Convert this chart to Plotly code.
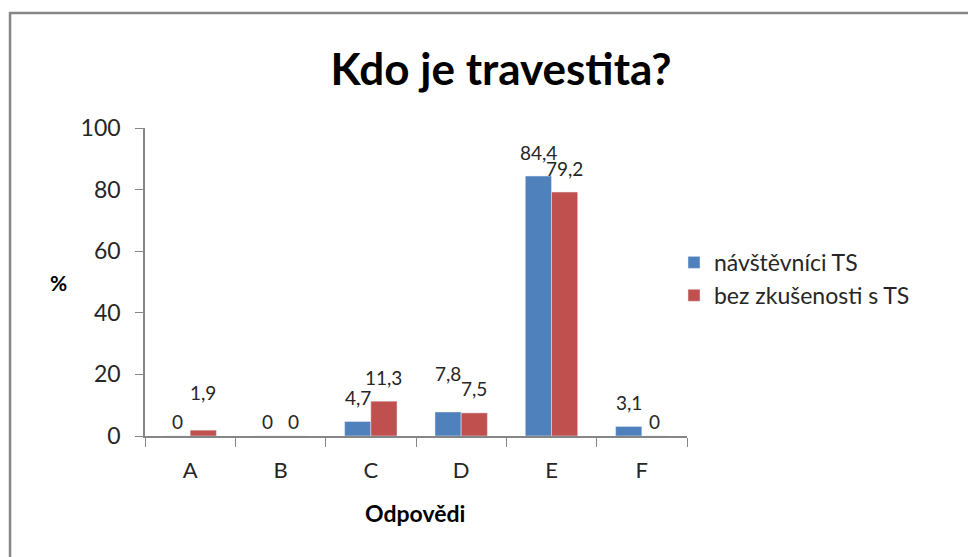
import plotly.graph_objects as go

# answers A-F, percent of respondents
odpovedi = ["A", "B", "C", "D", "E", "F"]
navstevnici = [0, 0, 4.7, 7.8, 84.4, 3.1]
bez_zkusenosti = [1.9, 0, 11.3, 7.5, 79.2, 0]
y_ticks = [0, 20, 40, 60, 80, 100]

def cz(v):
    # czech decimal comma
    return f"{v:g}".replace(".", ",")

FONT = "Lato"
TXT = "#262626"

fig = go.Figure()
fig.add_trace(go.Bar(x=odpovedi, y=navstevnici, name="návštěvníci TS",
                     marker_color="#4F81BD"))
fig.add_trace(go.Bar(x=odpovedi, y=bez_zkusenosti, name="bez zkušenosti s TS",
                     marker_color="#C0504D"))

# value labels above bars (excel style, a bit higher than plotly's own);
# when the two values of a category are close, the higher label is lifted
for vals, other, side in [(navstevnici, bez_zkusenosti, -1),
                          (bez_zkusenosti, navstevnici, 1)]:
    for cat, v, o in zip(odpovedi, vals, other):
        shift = 15 if v == 0 else 24
        if v > o and v - o < 3:
            shift += 14
        fig.add_annotation(x=cat, y=v, text=cz(v), showarrow=False,
                           xanchor="center", yanchor="middle",
                           xshift=side * 13, yshift=shift,
                           font=dict(family=FONT, size=19, color=TXT))

# page has an 8px body margin, so everything is offset by -8
fig.update_layout(
    width=976, height=557,
    margin=dict(l=137, r=297, t=120, b=129),
    paper_bgcolor="white", plot_bgcolor="white",
    barmode="group", bargap=0.42, bargroupgap=0,
    font=dict(family=FONT, color=TXT),
    title=dict(text="<b>Kdo je travestita?</b>", x=493 / 976, xref="container",
               y=1 - 62 / 557, yref="container", xanchor="center", yanchor="middle",
               font=dict(family=FONT, size=44, color="black")),
    legend=dict(x=0.976, y=0.51, xanchor="left", yanchor="middle",
                font=dict(family=FONT, size=23, color=TXT),
                itemwidth=30, tracegroupgap=4),
    showlegend=True,
)
fig.update_yaxes(range=[0, 100], tickvals=y_ticks, showgrid=False, zeroline=False,
                 showline=True, linecolor="#868686", linewidth=1.5,
                 ticks="outside", ticklen=8, tickcolor="#868686", ticklabelstandoff=10,
                 tickfont=dict(family=FONT, size=23, color=TXT))
fig.update_xaxes(showgrid=False, showline=True, linecolor="#868686", linewidth=1.5,
                 ticks="outside", ticklen=9, tickcolor="#868686", tickson="boundaries",
                 ticklabelstandoff=14,
                 tickfont=dict(family=FONT, size=22, color=TXT))

fig.add_annotation(text="<b>Odpovědi</b>", xref="paper", yref="paper",
                   x=0.498, y=-0.25, showarrow=False, xanchor="center", yanchor="middle",
                   font=dict(family=FONT, size=23, color="black"))
fig.add_annotation(text="<b>%</b>", xref="paper", yref="paper",
                   x=-0.1605, y=0.497, showarrow=False, xanchor="center", yanchor="middle",
                   font=dict(family=FONT, size=21, color="black"))

# chart frame (left/top edges, the rest runs off the page)
fig.add_shape(type="rect", xref="paper", yref="paper",
              x0=-0.249, x1=1.6, y0=-0.45, y1=1.373,
              line=dict(color="#868686", width=2.5), fillcolor="rgba(0,0,0,0)")

fig.write_html("out.html")
